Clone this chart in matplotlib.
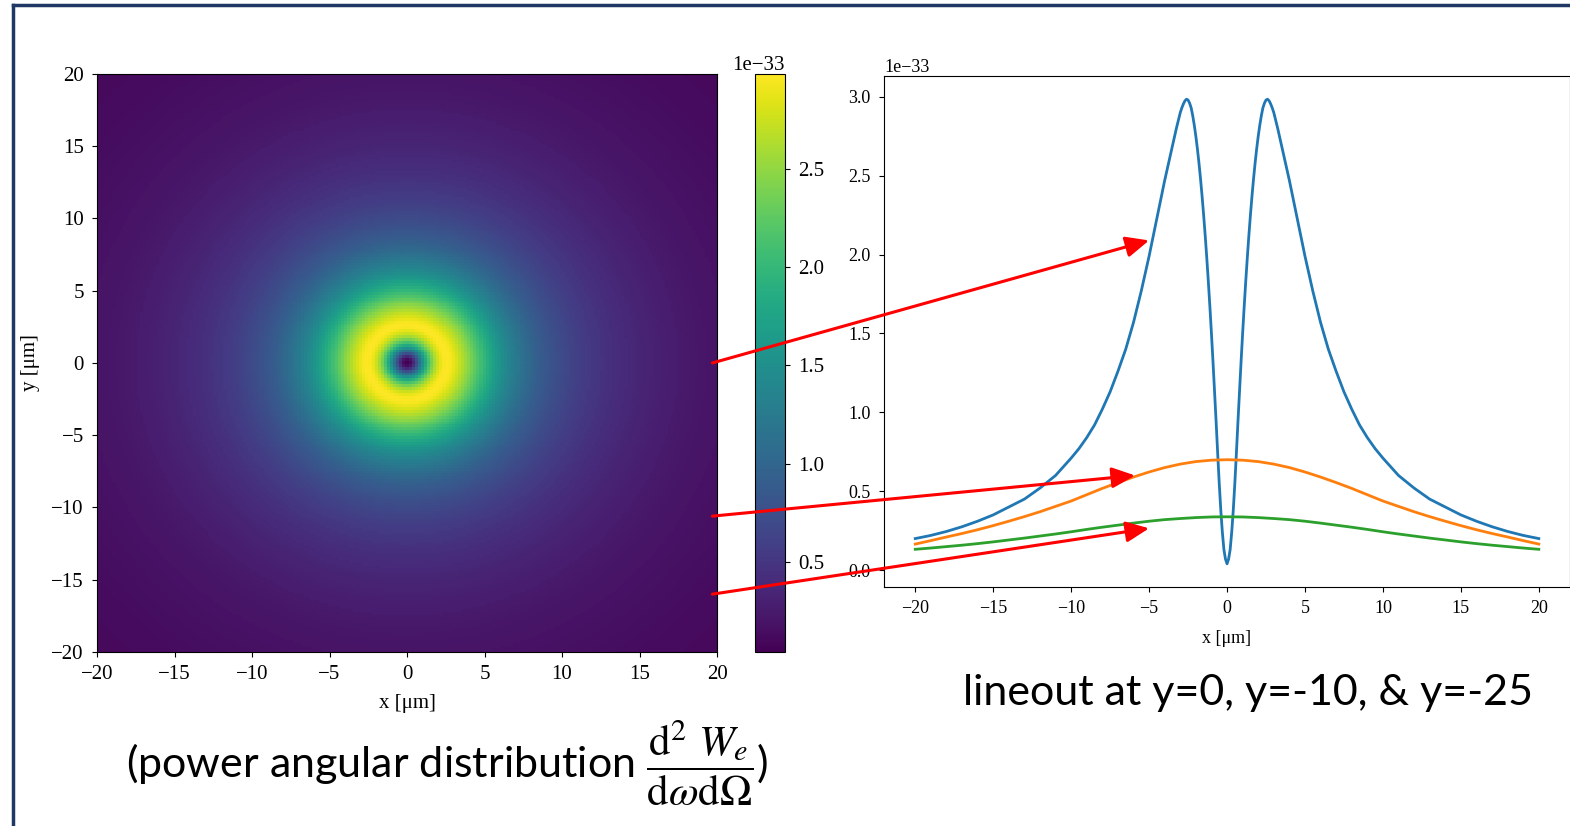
import numpy as np
import matplotlib
matplotlib.use('Agg')
import matplotlib.pyplot as plt
from matplotlib.patches import ConnectionPatch
from matplotlib.lines import Line2D

plt.rcParams['font.family'] = ['Liberation Serif', 'DejaVu Serif']
plt.rcParams['mathtext.fontset'] = 'stix'

# lineout at y=0 (blue), right half, units of 1e-33 (curve is symmetric)
x_half = [0, 0.1, 0.2, 0.3, 0.4, 0.5, 0.6, 0.7, 0.8, 0.9, 1.0, 1.1, 1.2, 1.3, 1.4, 1.5,
          1.6, 1.7, 1.8, 1.9, 2.0, 2.1, 2.2, 2.3, 2.4, 2.5, 2.6, 2.7, 2.8, 2.9, 3.0,
          3.25, 3.5, 3.75, 4.0, 4.25, 4.5, 4.75, 5.0, 5.25, 5.5, 5.75, 6.0, 6.5, 7.0,
          7.5, 8.0, 8.5, 9.0, 9.5, 10, 11, 12, 13, 14, 15, 16, 17, 18, 19, 20]
y0_half = [0.04, 0.07, 0.13, 0.24, 0.38, 0.55, 0.74, 0.94, 1.13, 1.32, 1.50, 1.67, 1.83, 1.98, 2.12, 2.25,
           2.37, 2.48, 2.58, 2.67, 2.75, 2.82, 2.88, 2.93, 2.96, 2.98, 2.985, 2.975, 2.955, 2.93, 2.90,
           2.80, 2.69, 2.58, 2.47, 2.35, 2.23, 2.11, 1.99, 1.88, 1.77, 1.67, 1.57, 1.40, 1.26,
           1.13, 1.02, 0.92, 0.84, 0.77, 0.71, 0.60, 0.52, 0.45, 0.40, 0.35, 0.31, 0.275, 0.245, 0.22, 0.20]

# lineouts further off axis (orange, green), right halves
x_off_half = [0, 1, 2, 3, 4, 5, 6, 7, 8, 9, 10, 11, 12, 13, 14, 15, 16, 17, 18, 19, 20]
y10_half = [0.70, 0.697, 0.688, 0.672, 0.65, 0.622, 0.59, 0.555, 0.518, 0.478, 0.438,
            0.404, 0.37, 0.339, 0.31, 0.282, 0.256, 0.232, 0.21, 0.187, 0.165]
y25_half = [0.338, 0.337, 0.333, 0.327, 0.32, 0.31, 0.298, 0.285, 0.272, 0.258, 0.243,
            0.229, 0.216, 0.203, 0.191, 0.179, 0.168, 0.158, 0.149, 0.14, 0.132]

# far tail of the radial profile (beyond the y=0 lineout)
r_tail = [22.5, 25, 28.5]
I_tail = [0.165, 0.132, 0.11]


def mirror(xs, ys):
    return (np.concatenate([-np.array(xs[:0:-1]), xs]),
            np.concatenate([ys[:0:-1], ys]))


x_y0, line_y0 = mirror(x_half, y0_half)
x_off, line_y10 = mirror(x_off_half, y10_half)
_, line_y25 = mirror(x_off_half, y25_half)

grid = np.linspace(-20, 20, 201)
X, Y = np.meshgrid(grid, grid)
img = np.interp(np.hypot(X, Y), x_half + r_tail, y0_half + I_tail) * 1e-33

fig = plt.figure(figsize=(15.7, 8.26), dpi=100)

ax1 = fig.add_axes([0.0618, 0.2107, 0.3949, 0.6998])
im = ax1.imshow(img, extent=[-20, 20, -20, 20], origin='lower', aspect='auto',
                cmap='viridis', interpolation='nearest')
ax1.set_xticks(np.arange(-20, 21, 5))
ax1.set_yticks(np.arange(-20, 21, 5))
ax1.tick_params(labelsize=15, pad=6)
ax1.set_xlabel('x [μm]', fontsize=15, labelpad=7)
ax1.set_ylabel('y [μm]', fontsize=15, labelpad=8)

cax = fig.add_axes([0.4809, 0.2107, 0.0191, 0.6998])
cb = fig.colorbar(im, cax=cax)
cb.ax.tick_params(labelsize=15, pad=6)
cb.ax.yaxis.get_offset_text().set_fontsize(15)

ax2 = fig.add_axes([0.5631, 0.2893, 0.4369, 0.6187])
ax2.plot(x_y0, line_y0 * 1e-33, lw=2)
ax2.plot(x_off, line_y10 * 1e-33, lw=2)
ax2.plot(x_off, line_y25 * 1e-33, lw=2)
ax2.set_xticks(np.arange(-20, 21, 5))
ax2.tick_params(labelsize=13, pad=6)
ax2.yaxis.get_offset_text().set_fontsize(13)
ax2.set_xlabel('x [μm]', fontsize=13, labelpad=9)

# red arrows from the map to the lineouts
for ya, xb, yb in [(0, -5.0, 2.09e-33), (-10.6, -5.9, 0.60e-33), (-16.0, -5.0, 0.265e-33)]:
    con = ConnectionPatch(xyA=(19.7, ya), coordsA=ax1.transData,
                          xyB=(xb, yb), coordsB=ax2.transData,
                          arrowstyle='-|>,head_length=1.0,head_width=0.45',
                          color='red', lw=2.2, mutation_scale=14)
    fig.add_artist(con)

fig.text(0.795, 0.161, 'lineout at y=0, y=-10, & y=-25', fontsize=31,
         family='Lato', ha='center', va='center')
fig.text(0.285, 0.076,
         r'(power angular distribution $\dfrac{\mathrm{d}^2\ W_e}{\mathrm{d}\omega\mathrm{d}\Omega}$)',
         fontsize=31, family='Lato', ha='center', va='center')

# frame
navy = '#203864'
fig.add_artist(Line2D([0.0085, 0.0085], [0, 0.994], transform=fig.transFigure, color=navy, lw=2.5))
fig.add_artist(Line2D([0.0085, 1], [0.994, 0.994], transform=fig.transFigure, color=navy, lw=2.5))

fig.savefig('out.png', dpi=100)
